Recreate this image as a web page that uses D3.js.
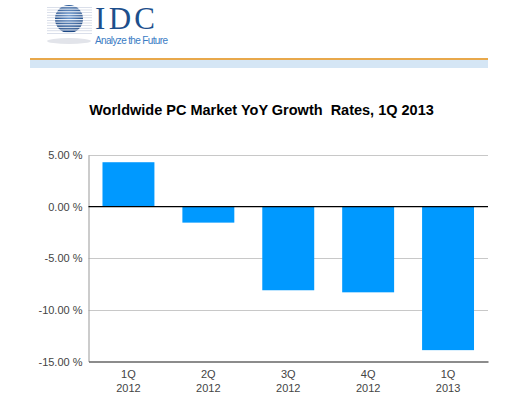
<!DOCTYPE html>
<html>
<head>
<meta charset="utf-8">
<script src="https://cdn.jsdelivr.net/npm/d3@7"></script>
<style>
  body { margin: 0; background: #fff; }
  svg { display: block; font-family: "Liberation Sans", Arial, sans-serif; }
</style>
</head>
<body>
<div class="chart"></div>
<script>
// data
const quarters = ["1Q", "2Q", "3Q", "4Q", "1Q"];
const years = ["2012", "2012", "2012", "2012", "2013"];
const growth = [4.3, -1.55, -8.1, -8.3, -13.9];
const yTicks = [5, 0, -5, -10, -15];

const w = 525;
const h = 394;
const plotLeft = 88.5, plotRight = 488, plotTop = 155, plotBottom = 361.5;

const svg = d3.select(".chart")
  .append("svg")
  .attr("width", w)
  .attr("height", h);

// logo
const logo = svg.append("g");
const grad = svg.append("defs").append("radialGradient")
  .attr("id", "globe").attr("cx", "0.5").attr("cy", "0.4").attr("r", "0.6");
grad.append("stop").attr("offset", "0%").attr("stop-color", "#6f9fd6");
grad.append("stop").attr("offset", "100%").attr("stop-color", "#0d3b7a");

logo.append("ellipse")
  .attr("cx", 69).attr("cy", 41).attr("rx", 22).attr("ry", 3)
  .attr("fill", "#e2e4ea");
logo.append("circle")
  .attr("cx", 69).attr("cy", 19).attr("r", 14)
  .attr("fill", "url(#globe)");
d3.range(11).forEach(k => {
  logo.append("rect")
    .attr("x", 47).attr("y", 6 + k * 2.6).attr("width", 45).attr("height", 1.1)
    .attr("fill", "#ffffff").attr("opacity", 0.9);
  logo.append("rect")
    .attr("x", 47).attr("y", 7.1 + k * 2.6).attr("width", 45).attr("height", 0.6)
    .attr("fill", "#9aa6c4").attr("opacity", 0.6);
});
logo.append("text")
  .attr("x", 95).attr("y", 28.5)
  .attr("font-family", "'Liberation Serif', 'Times New Roman', serif")
  .attr("font-size", 31)
  .attr("textLength", 60)
  .attr("fill", "#1d4f8c")
  .text("IDC");
logo.append("text")
  .attr("x", 95).attr("y", 44)
  .attr("font-size", 10)
  .attr("textLength", 73)
  .attr("fill", "#3a7cc4")
  .text("Analyze the Future");

// header band
svg.append("rect")
  .attr("x", 30).attr("y", 58).attr("width", 458).attr("height", 2)
  .attr("fill", "#e8a84b");
svg.append("rect")
  .attr("x", 30).attr("y", 60).attr("width", 458).attr("height", 8)
  .attr("fill", "#d5e6f5");

// title
svg.append("text")
  .attr("x", 261.5).attr("y", 115)
  .attr("text-anchor", "middle")
  .attr("font-size", 14.5)
  .attr("font-weight", "bold")
  .attr("fill", "#000")
  .style("white-space", "pre")
  .text("Worldwide PC Market YoY Growth  Rates, 1Q 2013");

// scales
const xScale = d3.scaleBand()
  .domain(d3.range(quarters.length))
  .range([plotLeft, plotRight])
  .paddingInner(0.35)
  .paddingOuter(0.175);

const yScale = d3.scaleLinear()
  .domain([-15, 5])
  .range([plotBottom, plotTop]);

// grid
svg.append("g")
  .selectAll("line")
  .data(yTicks.filter(d => d !== 0 && d !== -15))
  .enter()
  .append("line")
  .attr("x1", plotLeft).attr("x2", plotRight)
  .attr("y1", d => Math.round(yScale(d)) + 0.5)
  .attr("y2", d => Math.round(yScale(d)) + 0.5)
  .attr("stroke", "#c8c8c8");

// y axis
const yAxis = d3.axisLeft(yScale)
  .tickValues(yTicks)
  .tickSize(0)
  .tickPadding(6)
  .tickFormat(d => d.toFixed(2) + " %");

const yg = svg.append("g")
  .attr("transform", "translate(" + plotLeft + ",0)")
  .call(yAxis);
yg.select(".domain").attr("stroke", "#999");
yg.selectAll("text")
  .attr("font-size", 11)
  .attr("font-family", "'Liberation Sans', Arial, sans-serif")
  .attr("fill", "#444");

// bars
svg.append("g")
  .selectAll("rect")
  .data(growth)
  .enter()
  .append("rect")
  .attr("class", "bar")
  .attr("x", (d, i) => xScale(i))
  .attr("y", d => yScale(Math.max(0, d)))
  .attr("width", xScale.bandwidth())
  .attr("height", d => Math.abs(yScale(d) - yScale(0)))
  .attr("fill", "#0099ff");

// zero line
svg.append("line")
  .attr("x1", plotLeft).attr("x2", plotRight)
  .attr("y1", yScale(0)).attr("y2", yScale(0))
  .attr("stroke", "#000").attr("stroke-width", 1.3);

// x axis
const xAxis = d3.axisBottom(xScale)
  .tickSize(0)
  .tickFormat(() => "");
const xg = svg.append("g")
  .attr("transform", "translate(0," + plotBottom + ")")
  .call(xAxis);
xg.select(".domain").attr("stroke", "#666").attr("stroke-width", 1.3);
xg.selectAll(".tick").each(function(d) {
  const t = d3.select(this).append("text")
    .attr("text-anchor", "middle")
    .attr("font-size", 11)
    .attr("font-family", "'Liberation Sans', Arial, sans-serif")
    .attr("fill", "#444");
  t.append("tspan").attr("x", 0).attr("y", 16).text(quarters[d]);
  t.append("tspan").attr("x", 0).attr("y", 30).text(years[d]);
});
</script>
</body>
</html>
